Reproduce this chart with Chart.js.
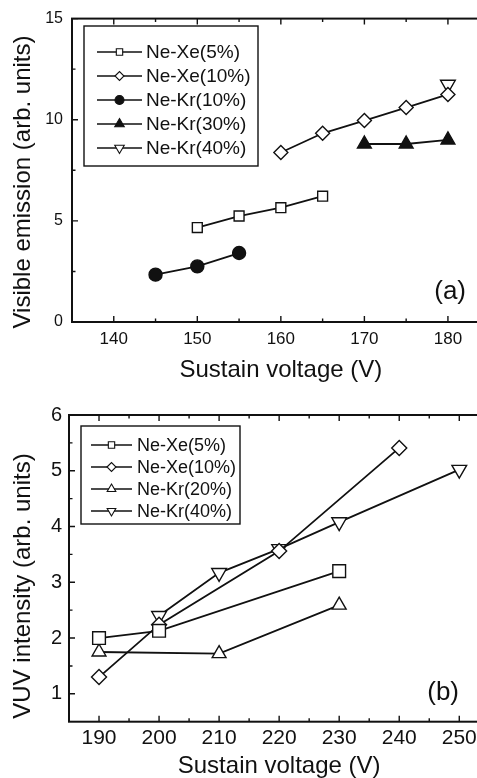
<!DOCTYPE html>
<html>
<head>
<meta charset="utf-8">
<script src="https://cdn.jsdelivr.net/npm/chart.js@4.4.0/dist/chart.umd.min.js"></script>
<style>
  html, body { margin: 0; padding: 0; background: #fff; overflow: hidden; width: 477px; height: 778px; }
  canvas { position: absolute; left: 0; }
  #chartA { top: 0; }
  #chartB { top: 390px; }
</style>
</head>
<body>
<canvas id="chartA" width="500" height="390"></canvas>
<canvas id="chartB" width="500" height="388"></canvas>
<script>
const FONT = 'Arial, "Liberation Sans", sans-serif';
const INK = '#111';

// ---- (a) visible emission ----
const namesA = ['Ne-Xe(5%)', 'Ne-Xe(10%)', 'Ne-Kr(10%)', 'Ne-Kr(30%)', 'Ne-Kr(40%)'];
const voltA_xe5 = [150, 155, 160, 165];
const visA_xe5 = [4.67, 5.24, 5.65, 6.22];
const voltA_xe10 = [160, 165, 170, 175, 180];
const visA_xe10 = [8.38, 9.33, 9.96, 10.6, 11.25];
const voltA_kr10 = [145, 150, 155];
const visA_kr10 = [2.34, 2.75, 3.41];
const voltA_kr30 = [170, 175, 180];
const visA_kr30 = [8.8, 8.8, 9.0];
const voltA_kr40 = [180];
const visA_kr40 = [11.74];
const xTicksA = [140, 150, 160, 170, 180];
const yTicksA = [0, 5, 10, 15];

// ---- (b) VUV intensity ----
const namesB = ['Ne-Xe(5%)', 'Ne-Xe(10%)', 'Ne-Kr(20%)', 'Ne-Kr(40%)'];
const voltB_xe5 = [190, 200, 230];
const vuvB_xe5 = [2.0, 2.13, 3.2];
const voltB_xe10 = [190, 200, 220, 240];
const vuvB_xe10 = [1.3, 2.24, 3.56, 5.41];
const voltB_kr20 = [190, 210, 230];
const vuvB_kr20 = [1.75, 1.72, 2.59];
const voltB_kr40 = [200, 210, 220, 230, 250];
const vuvB_kr40 = [2.4, 3.17, 3.6, 4.08, 5.02];
const xTicksB = [190, 200, 210, 220, 230, 240, 250];
const yTicksB = [1, 2, 3, 4, 5, 6];

function pairs(xs, ys) {
  return xs.map((x, i) => ({x: x, y: ys[i]}));
}

function series(label, xs, ys, style, radius, filled, rotation) {
  return {
    label: label,
    data: pairs(xs, ys),
    showLine: true,
    borderColor: INK,
    borderWidth: 1.8,
    tension: 0,
    pointStyle: style,
    pointRadius: radius,
    pointRotation: rotation || 0,
    pointBackgroundColor: filled ? INK : '#fff',
    pointBorderColor: INK,
    pointBorderWidth: 1.4
  };
}

// minor ticks halfway between the labelled ones
function tickMarks(scale) {
  const major = scale.ticks.map(t => t.value);
  const step = major[1] - major[0];
  const list = major.map(v => [v, 6]);
  for (let v = major[0] - step / 2; v < scale.max; v += step) {
    if (v > scale.min) list.push([v, 3.5]);
  }
  return list;
}

const paperPlugin = {
  id: 'paper',
  afterDraw(chart, args, opts) {
    const ctx = chart.ctx;
    const {left, right, top, bottom} = chart.chartArea;
    const xs = chart.scales.x, ys = chart.scales.y;
    ctx.save();
    ctx.strokeStyle = INK;
    ctx.fillStyle = INK;
    ctx.lineWidth = 2;
    ctx.strokeRect(left, top, right - left, bottom - top);

    // inward ticks on all four sides
    ctx.lineWidth = 1.4;
    ctx.beginPath();
    tickMarks(xs).forEach(([v, len]) => {
      const p = xs.getPixelForValue(v);
      ctx.moveTo(p, bottom); ctx.lineTo(p, bottom - len);
      ctx.moveTo(p, top); ctx.lineTo(p, top + len);
    });
    tickMarks(ys).forEach(([v, len]) => {
      const p = ys.getPixelForValue(v);
      ctx.moveTo(left, p); ctx.lineTo(left + len, p);
      ctx.moveTo(right, p); ctx.lineTo(right - len, p);
    });
    ctx.stroke();

    // y title
    ctx.save();
    ctx.translate(opts.yTitleX, opts.yTitleY);
    ctx.rotate(-Math.PI / 2);
    ctx.font = '24px ' + FONT;
    ctx.textAlign = 'center';
    ctx.textBaseline = 'middle';
    ctx.fillText(opts.yTitle, 0, 0);
    ctx.restore();

    // panel tag
    ctx.font = '26px ' + FONT;
    ctx.textAlign = 'right';
    ctx.textBaseline = 'middle';
    ctx.fillText(opts.tag, opts.tagX, opts.tagY);

    // legend
    const lg = opts.legend;
    ctx.lineWidth = 1.4;
    ctx.strokeRect(lg.x, lg.y, lg.w, lg.h);
    ctx.font = lg.size + 'px ' + FONT;
    ctx.textAlign = 'left';
    chart.data.datasets.forEach((d, i) => {
      const y = lg.row0 + i * lg.rowH;
      ctx.strokeStyle = INK;
      ctx.lineWidth = 1.7;
      ctx.beginPath();
      ctx.moveTo(lg.lineX, y);
      ctx.lineTo(lg.lineX + lg.lineW, y);
      ctx.stroke();
      ctx.fillStyle = d.pointBackgroundColor;
      ctx.lineWidth = 1.1;
      Chart.helpers.drawPoint(ctx, {
        pointStyle: d.pointStyle,
        rotation: d.pointRotation,
        radius: lg.radii[i],
        borderWidth: 1.1
      }, lg.lineX + lg.lineW / 2, y);
      ctx.fillStyle = INK;
      ctx.fillText(d.label, lg.textX, y + 1);
    });
    ctx.restore();
  }
};

function axes(xMin, xMax, xTicks, xFont, xPad, xHeight, xTitlePad, yMin, yMax, yTicks, yFont, yPad, yWidth) {
  return {
    x: {
      type: 'linear', min: xMin, max: xMax,
      afterBuildTicks: s => { s.ticks = xTicks.map(v => ({value: v})); },
      afterFit: s => { s.height = xHeight; },
      grid: {display: false, drawTicks: false},
      border: {display: false},
      ticks: {color: INK, font: {size: xFont, family: FONT}, padding: xPad, maxRotation: 0, autoSkip: false},
      title: {display: true, text: 'Sustain voltage (V)', color: INK,
              font: {size: 24, family: FONT, lineHeight: 1}, padding: {top: 0, bottom: xTitlePad}}
    },
    y: {
      type: 'linear', min: yMin, max: yMax,
      afterBuildTicks: s => { s.ticks = yTicks.map(v => ({value: v})); },
      afterFit: s => { s.width = yWidth; },
      grid: {display: false, drawTicks: false},
      border: {display: false},
      ticks: {color: INK, font: {size: yFont, family: FONT}, padding: yPad}
    }
  };
}

new Chart(document.getElementById('chartA'), {
  type: 'scatter',
  data: {
    datasets: [
      series(namesA[0], voltA_xe5, visA_xe5, 'rect', 7, false),
      series(namesA[1], voltA_xe10, visA_xe10, 'rectRot', 7, false),
      series(namesA[2], voltA_kr10, visA_kr10, 'circle', 6.5, true),
      series(namesA[3], voltA_kr30, visA_kr30, 'triangle', 8, true),
      series(namesA[4], voltA_kr40, visA_kr40, 'triangle', 8.5, false, 180)
    ]
  },
  options: {
    responsive: false,
    devicePixelRatio: 1,
    animation: false,
    events: [],
    layout: {padding: {top: 16, right: 10.3, left: 0, bottom: 0}},
    scales: axes(135, 185, xTicksA, 17, 7, 68, 8, 0, 15, yTicksA, 16, 9, 72),
    plugins: {
      legend: {display: false},
      tooltip: {enabled: false},
      paper: {
        yTitle: 'Visible emission (arb. units)', yTitleX: 23, yTitleY: 182,
        tag: '(a)', tagX: 466, tagY: 292,
        legend: {x: 84, y: 26, w: 174, h: 140, row0: 52, rowH: 24, lineX: 97, lineW: 45, textX: 146, size: 19,
                 radii: [4.5, 4.5, 4.5, 5.5, 5.5]}
      }
    }
  },
  plugins: [paperPlugin]
});

new Chart(document.getElementById('chartB'), {
  type: 'scatter',
  data: {
    datasets: [
      series(namesB[0], voltB_xe5, vuvB_xe5, 'rect', 9, false),
      series(namesB[1], voltB_xe10, vuvB_xe10, 'rectRot', 7.5, false),
      series(namesB[2], voltB_kr20, vuvB_kr20, 'triangle', 8, false),
      series(namesB[3], voltB_kr40, vuvB_kr40, 'triangle', 8.5, false, 180)
    ]
  },
  options: {
    responsive: false,
    devicePixelRatio: 1,
    animation: false,
    events: [],
    layout: {padding: {top: 25, right: 10.7, left: 0, bottom: 0}},
    scales: axes(185, 255, xTicksB, 21, 4, 56.3, 0, 0.5, 6, yTicksB, 20, 7, 69),
    plugins: {
      legend: {display: false},
      tooltip: {enabled: false},
      paper: {
        yTitle: 'VUV intensity (arb. units)', yTitleX: 23, yTitleY: 196,
        tag: '(b)', tagX: 459, tagY: 303,
        legend: {x: 81, y: 36, w: 159, h: 98, row0: 55, rowH: 22, lineX: 91, lineW: 41, textX: 137, size: 18,
                 radii: [4.5, 4.5, 5, 5]}
      }
    }
  },
  plugins: [paperPlugin]
});
</script>
</body>
</html>
